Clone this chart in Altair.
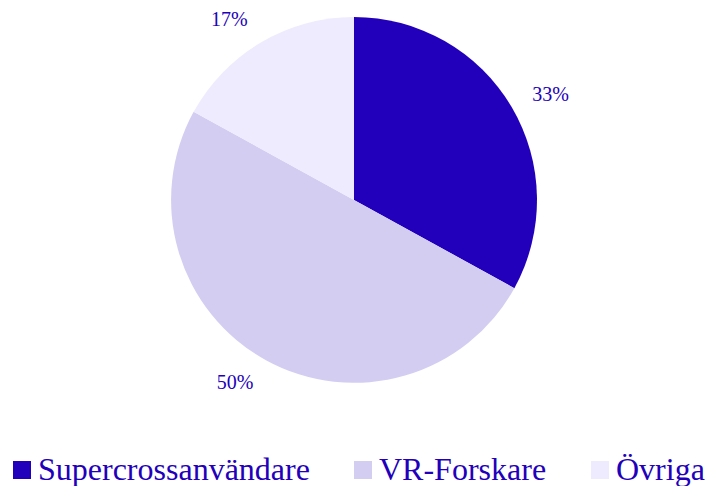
import altair as alt
import pandas as pd

categories = ["Supercrossanvändare", "VR-Forskare", "Övriga"]
values = [33, 50, 17]
labels = ["33%", "50%", "17%"]
sides = ["right", "left", "left"]
colors = ["#2200BB", "#D3CDF2", "#EDEBFD"]

df = pd.DataFrame({"cat": categories, "val": values, "lab": labels, "side": sides, "ord": [0, 1, 2]})

CX, CY = 346, 192

base = alt.Chart(df).encode(
    theta=alt.Theta("val:Q", stack=True),
    order=alt.Order("ord:Q"),
)

pie = base.mark_arc(radius=183, stroke=None).encode(
    x=alt.value(CX),
    y=alt.value(CY),
    color=alt.Color(
        "cat:N",
        sort=categories,
        scale=alt.Scale(domain=categories, range=colors),
        legend=alt.Legend(
            title=None,
            orient="none",
            direction="horizontal",
            legendX=-2,
            legendY=446,
            padding=0,
            symbolType="square",
            symbolSize=324,
            symbolStrokeWidth=0,
            symbolOpacity=1,
            labelFont="Liberation Serif",
            labelFontSize=32,
            labelColor="#2200BB",
            columnPadding=37,
            labelOffset=0,
            labelLimit=400,
        ),
    ),
)

text_right = base.mark_text(
    radius=207, font="Liberation Serif", fontSize=20, color="#2200BB", align="left"
).encode(
    x=alt.value(CX),
    y=alt.value(CY),
    text="lab:N",
    opacity=alt.condition(alt.datum.side == "right", alt.value(1), alt.value(0)),
)

text_left = base.mark_text(
    radius=209, font="Liberation Serif", fontSize=20, color="#2200BB", align="right"
).encode(
    x=alt.value(CX),
    y=alt.value(CY),
    text="lab:N",
    opacity=alt.condition(alt.datum.side == "left", alt.value(1), alt.value(0)),
)

chart = (
    alt.layer(pie, text_right, text_left)
    .properties(width=699, height=478, autosize=alt.AutoSizeParams(type="none"), padding=0)
    .configure_view(stroke=None)
)

chart.save("out.html", embed_options={"renderer": "svg", "actions": False})
